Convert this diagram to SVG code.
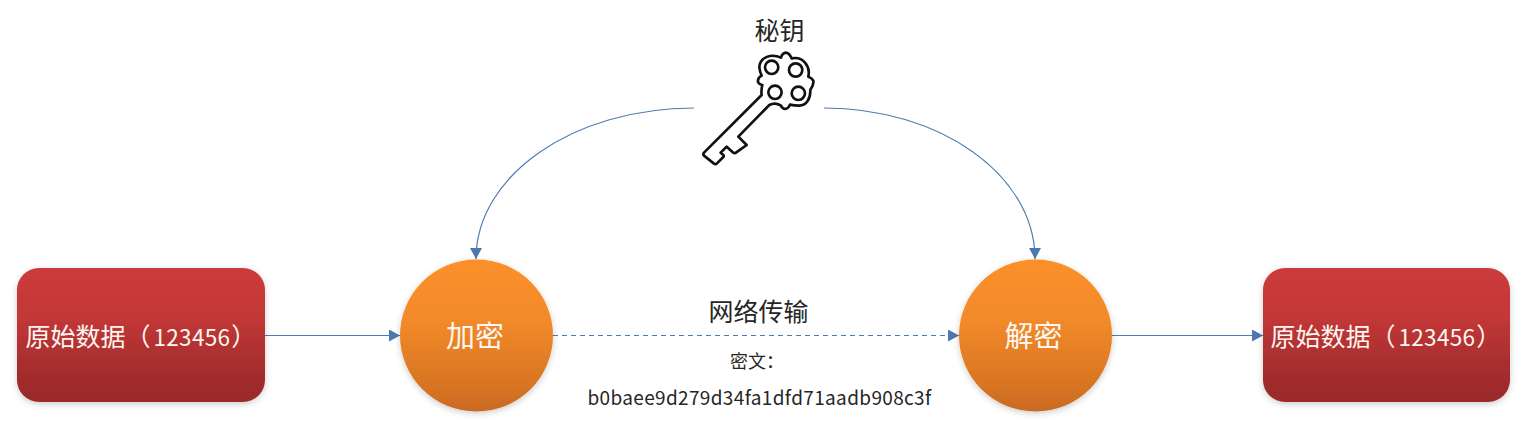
<svg xmlns="http://www.w3.org/2000/svg" width="1531" height="441" viewBox="0 0 1531 441">
<style>
text{font-family:"Noto Sans CJK SC","Microsoft YaHei",sans-serif}
.w{fill:#fdf6f0}
.m{text-anchor:middle}
.d{fill:#262626;text-anchor:middle}
.n{font-size:22.500px;letter-spacing:.3px}
.c{fill:none;stroke:#4f7cb0;stroke-width:1.200}
.box{fill:url(#red);filter:url(#sh)}
.orb{fill:url(#org);filter:url(#sh)}
.k{fill:none;stroke:#111;stroke-width:8;stroke-linejoin:round;stroke-linecap:round}
</style>
<defs>
<linearGradient id="red" x1="0" y1="0" x2="0" y2="1"><stop offset="0" stop-color="#cb3b3b"/><stop offset=".35" stop-color="#c43838"/><stop offset=".75" stop-color="#a52d2d"/><stop offset="1" stop-color="#9a2a2a"/></linearGradient>
<linearGradient id="org" x1="0" y1="0" x2="0" y2="1"><stop offset="0" stop-color="#fb8f2b"/><stop offset=".4" stop-color="#f28a2a"/><stop offset=".8" stop-color="#da7623"/><stop offset="1" stop-color="#c96a20"/></linearGradient>
<filter id="sh" x="-10%" y="-10%" width="120%" height="125%"><feDropShadow dx="0" dy="2" stdDeviation="3" flood-color="#000" flood-opacity=".2"/></filter>
<marker id="a" markerUnits="userSpaceOnUse" markerWidth="11" markerHeight="12" refX="11" refY="6" orient="auto"><path d="M0 0L11 6L0 12Z" fill="#4a78b0"/></marker>
</defs>
<rect width="1531" height="441" fill="#fff"/>
<g id="connectors">
<path class="c" d="M265 335.500H400" marker-end="url(#a)"/>
<path class="c" d="M553 335.500H959" stroke-dasharray="5 4" marker-end="url(#a)"/>
<path class="c" d="M1112 335.500H1263" marker-end="url(#a)"/>
<path class="c" d="M694 108C574 108 476 175 476 259" marker-end="url(#a)"/>
<path class="c" d="M824 108C940 108 1035 175 1035 259" marker-end="url(#a)"/>
</g>
<g id="source"><rect class="box" x="17" y="268" width="248" height="134" rx="22"/><text class="w" x="25.500" y="346" font-size="25">原始数据（<tspan class="n" dx="3">123456</tspan><tspan dx="1">）</tspan></text></g>
<g id="encrypt"><ellipse class="orb" cx="476.500" cy="335.500" rx="76.500" ry="76"/><text class="w m" x="475" y="347" font-size="29">加密</text></g>
<g id="decrypt"><ellipse class="orb" cx="1035.500" cy="335.500" rx="76.500" ry="76"/><text class="w m" x="1033.500" y="347" font-size="29">解密</text></g>
<g id="target"><rect class="box" x="1263" y="268" width="247" height="134" rx="22"/><text class="w" x="1270.500" y="346" font-size="25">原始数据（<tspan class="n" dx="3">123456</tspan><tspan dx="1">）</tspan></text></g>
<g id="key">
<text class="d" x="779.500" y="40" font-size="25">秘钥</text>
<g transform="translate(680 10) scale(.3333)">
<path class="k" d="M245 255L72 428Q68 433 72 437L102 461Q107 464 111 460L130 441Q133 437 129 434L122 428L140 410L160 428Q164 431 168 428L200 405L175 380L268 285Q285 276 302 286Q307 296 316 297Q326 295 330 284Q342 287 358 287C378 287 392 268 391 240Q402 225 400 212Q395 203 385 200C392 170 370 138 335 145Q327 128 317 128Q306 130 303 143C275 130 240 140 238 172Q240 188 245 197Q232 204 234 216Q238 224 247 225Q243 240 245 255Z"/>
<circle class="k" cx="275" cy="172" r="20"/><circle class="k" cx="347" cy="180" r="20"/><circle class="k" cx="285" cy="247" r="20"/><circle class="k" cx="355" cy="250" r="20"/>
</g>
</g>
<g id="labels">
<text class="d" x="758.500" y="321" font-size="25">网络传输</text>
<text class="d" x="757" y="368" font-size="18">密文：</text>
<text class="d" x="759.500" y="405" font-size="19" letter-spacing=".35">b0baee9d279d34fa1dfd71aadb908c3f</text>
</g>
</svg>
